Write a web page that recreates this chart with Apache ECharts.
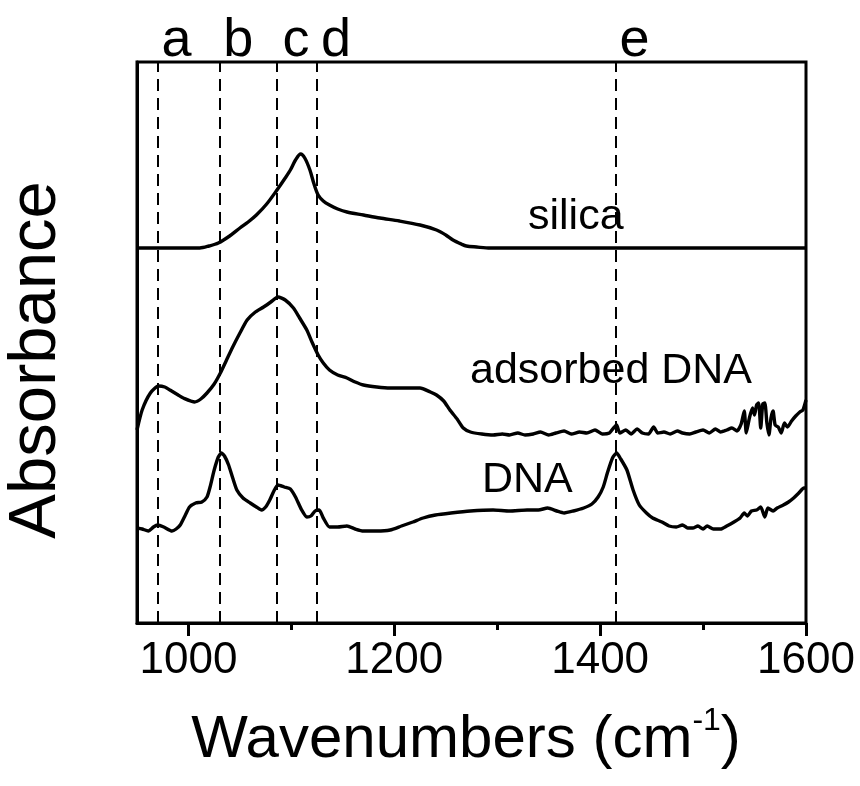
<!DOCTYPE html>
<html><head><meta charset="utf-8">
<script src="https://cdn.jsdelivr.net/npm/echarts@6/dist/echarts.min.js"></script>
<style>html,body{margin:0;padding:0;background:#fff}#c{width:860px;height:786px}</style>
</head><body><div id="c"></div>
<script>
// ---- data (wavenumber in cm^-1, absorbance in arbitrary offset units) ----
const silicaWn  = [950,1000,1011,1020,1029,1040,1050,1058,1066,1076,1086,1094,1099,1104,1109,1113,1118,1122,1126,1131,1137,1145,1154,1170,1186,1205,1225,1241,1250,1257,1265,1270,1280,1293,1400,1600];
const silicaAbs = [3.75,3.75,3.75,3.77,3.80,3.87,3.95,4.01,4.08,4.19,4.33,4.45,4.53,4.63,4.69,4.65,4.53,4.39,4.28,4.22,4.18,4.14,4.11,4.08,4.05,4.02,3.98,3.93,3.88,3.83,3.79,3.77,3.76,3.75,3.75,3.75];

const adsWn  = [950,955,963,971,977,982,990,995,1006,1012,1018,1025,1031,1037,1043,1050,1057,1065,1073,1080,1087,1094,1102,1108,1115,1120,1126,1131,1137,1145,1154,1162,1170,1183,1196,1210,1225,1235,1241,1248,1254,1261,1267,1274,1285,1296,
  1305,1312,1320,1327,1335,1342,1350,1357,1365,1372,1380,1387,1395,1402,1409,1413,1416,1419,1425,1430,1436,1441,1447,1452,1456,1462,1468,1475,1480,1487,1493,1500,1506,1512,1517,1523,1528,1533,1537,1540,1542,1545,1548,1550,1552,1554,1556,1558,1560,1562,1564,1566,1568,1570,1573,1576,1579,1582,1586,1590,1594,1597,1600];
const adsAbs = [1.93,2.13,2.30,2.37,2.36,2.33,2.28,2.25,2.21,2.24,2.30,2.39,2.50,2.63,2.76,2.90,3.03,3.11,3.16,3.21,3.26,3.23,3.15,3.05,2.93,2.81,2.68,2.60,2.53,2.48,2.45,2.41,2.38,2.36,2.35,2.35,2.35,2.31,2.28,2.22,2.13,2.04,1.95,1.91,1.89,1.88,
  1.89,1.88,1.90,1.88,1.89,1.91,1.88,1.90,1.92,1.89,1.91,1.90,1.93,1.89,1.90,1.95,1.98,1.90,1.93,1.89,1.94,1.90,1.89,1.96,1.90,1.91,1.89,1.92,1.90,1.89,1.91,1.93,1.90,1.94,1.91,1.93,1.95,1.92,1.99,2.12,1.90,2.05,2.15,2.08,2.18,2.20,1.95,2.19,2.20,2.00,1.88,2.05,2.12,1.98,1.96,1.90,2.00,1.96,2.02,2.07,2.11,2.13,2.23];

const dnaWn  = [950,955,961,966,970,976,984,988,992,997,1001,1007,1013,1018,1021,1025,1029,1032,1035,1039,1043,1047,1053,1060,1066,1071,1075,1079,1083,1087,1093,1099,1104,1110,1115,1119,1123,1127,1131,1137,1145,1154,1162,1170,1183,1196,1207,1218,1228,1240,1255,1274,1296,1312,1329,1340,1349,1358,1365,1374,1384,1392,1398,1403,1407,1412,1416,1420,1426,1432,1438,1445,1451,1460,1467,1474,1480,1485,1490,1495,1500,1504,1510,1517,1523,1530,1536,1540,1543,1547,1552,1556,1560,1563,1568,1572,1578,1583,1588,1593,1598,1600];
const dnaAbs = [0.95,0.94,0.92,0.96,0.98,0.96,0.92,0.94,0.98,1.08,1.16,1.20,1.21,1.26,1.36,1.53,1.66,1.70,1.67,1.58,1.45,1.33,1.25,1.20,1.16,1.13,1.16,1.23,1.32,1.38,1.36,1.34,1.26,1.13,1.06,1.07,1.12,1.13,1.05,0.96,0.96,0.97,0.94,0.92,0.92,0.93,0.97,1.01,1.05,1.08,1.10,1.12,1.13,1.12,1.13,1.13,1.15,1.12,1.10,1.12,1.15,1.19,1.26,1.36,1.50,1.65,1.70,1.64,1.53,1.33,1.18,1.10,1.05,1.01,0.97,0.96,0.98,0.95,0.95,0.97,0.94,0.97,0.94,0.94,0.97,1.01,1.05,1.10,1.07,1.12,1.13,1.16,1.06,1.15,1.12,1.15,1.18,1.21,1.25,1.30,1.35,1.35];

const seriesNames = ['silica', 'adsorbed DNA', 'DNA'];
const peakLetters = ['a', 'b', 'c', 'd', 'e'];
const peakWn      = [970, 1030, 1086, 1125, 1415];
const majorTicks  = [1000, 1200, 1400, 1600];
const minorTicks  = [1100, 1300, 1500];
const xTitle = 'Wavenumbers (cm';
const yTitle = 'Absorbance';

const zip = (a, b) => a.map((v, i) => [v, b[i]]);
const FONT = 'Liberation Sans, Arial, sans-serif';
const X_MIN = 950, X_MAX = 1600, Y_MIN = 0, Y_MAX = 5.61;

const chart = echarts.init(document.getElementById('c'), null, {renderer: 'canvas'});
const lineStyle = {color: '#000', width: 3.4};

chart.setOption({
  animation: false,
  backgroundColor: '#fff',
  grid: {left: 137, right: 54, top: 62, bottom: 163, show: true, borderColor: '#000', borderWidth: 3, backgroundColor: 'transparent'},
  xAxis: [
    {type: 'value', min: X_MIN, max: X_MAX, position: 'bottom',
     axisLine: {show: true, lineStyle: {color: '#000', width: 3}},
     axisTick: {show: true, customValues: majorTicks, length: 13, lineStyle: {color: '#000', width: 3}},
     axisLabel: {show: true, customValues: majorTicks, formatter: v => String(v), fontSize: 44, color: '#000', fontFamily: FONT, margin: 16},
     splitLine: {show: false}},
    {type: 'value', min: X_MIN, max: X_MAX, position: 'bottom',
     axisLine: {show: false},
     axisTick: {show: true, customValues: minorTicks, length: 7, lineStyle: {color: '#000', width: 3}},
     axisLabel: {show: false}, splitLine: {show: false}}
  ],
  yAxis: {type: 'value', min: Y_MIN, max: Y_MAX,
    axisLine: {show: true, lineStyle: {color: '#000', width: 3}},
    axisTick: {show: false}, axisLabel: {show: false}, splitLine: {show: false}},
  series: [
    {name: seriesNames[0], type: 'line', data: zip(silicaWn, silicaAbs), showSymbol: false, smooth: 0.3, lineStyle, silent: true,
     markLine: {silent: true, symbol: ['none', 'none'], label: {show: false},
       lineStyle: {color: '#000', width: 2, type: [12, 7]},
       data: peakWn.map(v => ({xAxis: v}))}},
    {name: seriesNames[1], type: 'line', data: zip(adsWn, adsAbs), showSymbol: false, smooth: 0.2, lineStyle, silent: true},
    {name: seriesNames[2], type: 'line', data: zip(dnaWn, dnaAbs), showSymbol: false, smooth: 0.2, lineStyle, silent: true},
    {name: 'peaks', type: 'scatter', symbolSize: 0, silent: true, clip: false,
     itemStyle: {opacity: 1, color: '#000'},
     data: peakWn.map((v, i) => ({value: [v, Y_MAX], name: peakLetters[i]})),
     label: {show: true, position: 'top', distance: -6, offset: [19, 0], formatter: p => p.name,
       fontSize: 54, color: '#000', opacity: 1, fontFamily: FONT}}
  ],
  graphic: [
    {type: 'text', left: 528, top: 196, style: {text: seriesNames[0], font: '43px ' + FONT, fill: '#000'}},
    {type: 'text', left: 470, top: 350, style: {text: seriesNames[1], font: '43px ' + FONT, fill: '#000'}},
    {type: 'text', left: 482, top: 459, style: {text: seriesNames[2], font: '43px ' + FONT, fill: '#000'}},
    {type: 'text', x: 37, y: 360, rotation: Math.PI / 2,
     style: {text: yTitle, font: '67px ' + FONT, fill: '#000', align: 'center', verticalAlign: 'middle'}},
    {type: 'text', x: 466, y: 740,
     style: {text: '{m|' + xTitle + '}{s|-1}{m|)}', align: 'center', verticalAlign: 'middle', fill: '#000',
       rich: {m: {fontSize: 60, fontFamily: FONT, fill: '#000', lineHeight: 70},
              s: {fontSize: 32, fontFamily: FONT, fill: '#000', verticalAlign: 'top', lineHeight: 70, padding: [0, 0, 34, 0]}}}}
  ]
});
</script></body></html>
